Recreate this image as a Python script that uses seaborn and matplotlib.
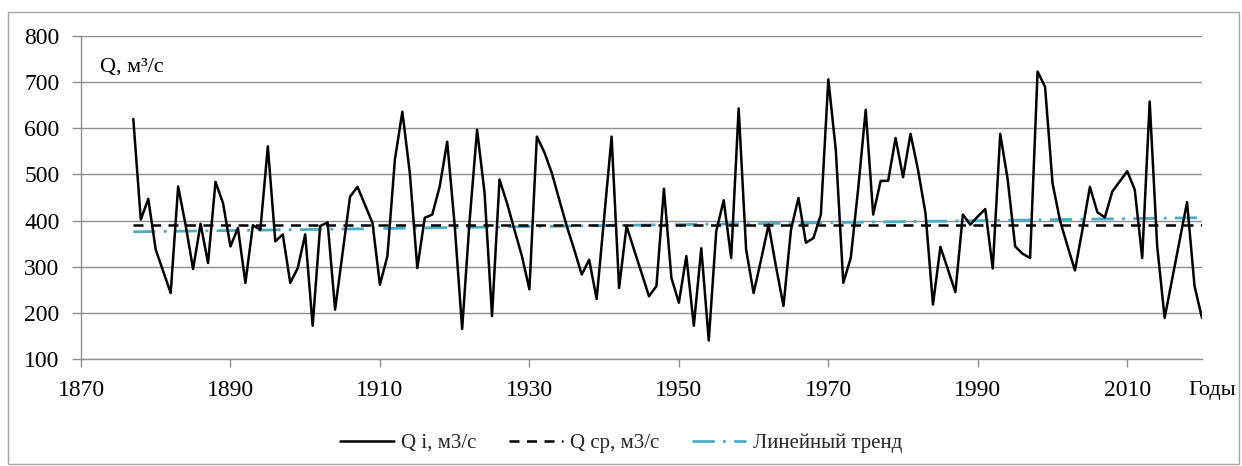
import numpy as np
import pandas as pd
import matplotlib
matplotlib.use("Agg")
import matplotlib.pyplot as plt
from matplotlib.lines import Line2D
from matplotlib.patches import Rectangle
import seaborn as sns

# ---------------- data ----------------
years = list(range(1877, 2021))
q_values = [
    620, 402, 447, 337, 290, 243, 474, 390, 295, 393,   # 1877-1886
    308, 484, 438, 344, 384, 265, 390, 380, 561, 355,   # 1887-1896
    370, 265, 297, 370, 172, 388, 396, 207, 330, 452,   # 1897-1906
    473, 434, 395, 261, 323, 532, 636, 503, 297, 406,   # 1907-1916
    413, 474, 571, 390, 165, 400, 597, 460, 193, 489,   # 1917-1926
    438, 380, 323, 251, 582, 548, 503, 445, 388, 337,   # 1927-1936
    283, 315, 230, 405, 582, 254, 388, 337, 287, 236,   # 1937-1946
    258, 469, 276, 222, 323, 172, 340, 140, 377, 444,   # 1947-1956
    319, 643, 337, 243, 315, 391, 300, 215, 380, 449,   # 1957-1966
    352, 362, 413, 706, 553, 265, 319, 470, 640, 413,   # 1967-1976
    486, 486, 579, 494, 588, 510, 416, 218, 343, 294,   # 1977-1986
    245, 413, 391, 409, 425, 296, 588, 489, 344, 328,   # 1987-1996
    319, 723, 690, 481, 400, 345, 292, 380, 473, 418,   # 1997-2006
    407, 463, 485, 507, 467, 319, 658, 345, 189, 273,   # 2007-2016
    356, 440, 258, 189,                                  # 2017-2020
]
x_ticks = [1870, 1890, 1910, 1930, 1950, 1970, 1990, 2010]
y_ticks = [100, 200, 300, 400, 500, 600, 700, 800]
label_qi = "Q i, м3/с"
label_qmean = "Q ср, м3/с"
label_trend = "Линейный тренд"
y_title = "Q, м³/с"
x_title = "Годы"

# ---------------- derived ----------------
df = pd.DataFrame({"year": years, "Q": q_values})
q_mean = float(np.mean(q_values))
slope, intercept = np.polyfit(years, q_values, 1)
df["mean"] = q_mean
df["trend"] = slope * df["year"] + intercept

# ---------------- style ----------------
sns.set_theme(style="white")
plt.rcParams["font.family"] = ["Liberation Serif", "DejaVu Serif"]

W, H = 1242, 466
fig = plt.figure(figsize=(W / 100, H / 100), dpi=100)
L, R, T, B = 81, 1202, 36, 359
ax = fig.add_axes([L / W, 1 - B / H, (R - L) / W, (B - T) / H])

grid_c = "#8f8f8f"
trend_c = "#4bacc6"

for yv in y_ticks:
    ax.axhline(yv, color=grid_c, lw=1.0, zorder=1)

sns.lineplot(data=df, x="year", y="trend", ax=ax, color=trend_c, lw=2.0,
             zorder=2, legend=False, dashes=False)
ax.lines[-1].set_dashes((8, 3, 1, 3))
sns.lineplot(data=df, x="year", y="mean", ax=ax, color="black", lw=1.8,
             zorder=3, legend=False)
ax.lines[-1].set_dashes((4, 3))
sns.lineplot(data=df, x="year", y="Q", ax=ax, color="black", lw=1.8,
             zorder=4, legend=False)

ax.set_xlim(1870, 2020)
ax.set_ylim(100, 800)
ax.set_xticks(x_ticks)
ax.set_yticks(y_ticks)
ax.set_xlabel("")
ax.set_ylabel("")

for s in ["top", "right"]:
    ax.spines[s].set_visible(False)
for s in ["left", "bottom"]:
    ax.spines[s].set_color(grid_c)
    ax.spines[s].set_linewidth(1.0)

ax.tick_params(axis="y", direction="out", length=6.5, width=1, color=grid_c,
               pad=9, labelsize=17, labelcolor="black", left=True)
ax.tick_params(axis="x", direction="out", length=6, width=1, color=grid_c,
               pad=9, labelsize=17, labelcolor="black", bottom=True)

ax.text(0.017, 0.905, y_title, transform=ax.transAxes, fontsize=16,
        ha="left", va="center", color="black")
fig.text(1236 / W, 1 - 390 / H, x_title, fontsize=16, ha="right", va="center",
         color="black")

handles = [
    Line2D([], [], color="black", lw=1.8),
    Line2D([], [], color="black", lw=1.8, dashes=(4, 3)),
    Line2D([], [], color=trend_c, lw=2.0, dashes=(8, 3, 1, 3)),
]
fig.legend(handles, [label_qi, label_qmean, label_trend], loc="center",
           bbox_to_anchor=(0.5, 1 - 443 / H), ncol=3, frameon=False,
           fontsize=15, handlelength=2.6, handletextpad=0.3,
           columnspacing=1.6)

fig.patches.append(Rectangle((8 / W, 2 / H), (1239 - 8) / W, (H - 12 - 2) / H,
                             transform=fig.transFigure, fill=False,
                             edgecolor="#a6a6a6", lw=1.0))

fig.savefig("out.png", dpi=100)
